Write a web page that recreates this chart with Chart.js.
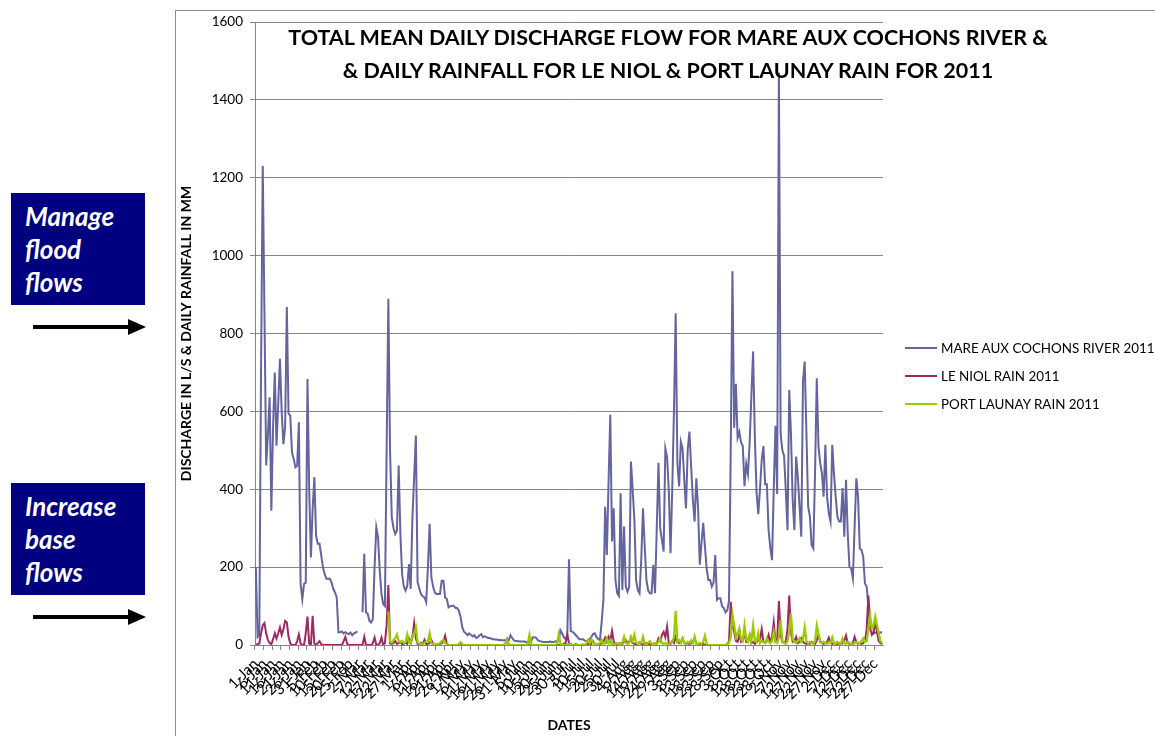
<!DOCTYPE html>
<html>
<head>
<meta charset="utf-8">
<script src="https://cdn.jsdelivr.net/npm/chart.js@4.4.0/dist/chart.umd.min.js"></script>
<style>
  body { margin: 0; width: 1155px; height: 736px; overflow: hidden; background: #fff; position: relative; font-family: Lato, 'Open Sans', sans-serif; }
  #chart { position: absolute; left: 0; top: 0; }
  #frame { position: absolute; left: 175px; top: 10px; width: 1000px; height: 740px; border-left: 1px solid #8c8c8c; border-top: 1px solid #8c8c8c; pointer-events: none; }
  #title { position: absolute; left: 218px; width: 900px; top: 21px; text-align: center; font: bold 21.5px Lato, sans-serif; line-height: 33px; color: #000; }
  .note { position: absolute; left: 11px; width: 134px; height: 112px; background: #000080; color: #fff; box-sizing: border-box; padding: 7px 0 0 14px; font: italic bold 26px Lato, sans-serif; line-height: 33px; }
  .note div { height: 33px; }
  .arrow { position: absolute; left: 33px; width: 114px; height: 18px; }
  #legend { position: absolute; left: 905px; top: 334px; font: 13.4px Lato, sans-serif; color: #000; }
  #legend .item { height: 28px; display: flex; align-items: center; white-space: nowrap; }
  #legend .swatch { width: 32px; height: 2px; margin-right: 4px; }
</style>
</head>
<body>
<canvas id="chart" width="1155" height="736"></canvas>
<div id="frame"></div>
<div id="title">TOTAL MEAN DAILY DISCHARGE FLOW FOR MARE AUX COCHONS RIVER &amp;<br>&amp; DAILY RAINFALL FOR LE NIOL &amp; PORT LAUNAY RAIN FOR 2011</div>

<div class="note" style="top:193px"><div>Manage</div><div>flood</div><div>flows</div></div>
<svg class="arrow" style="top:318px" viewBox="0 0 114 18"><rect x="0" y="7" width="98" height="4" fill="#000"/><polygon points="95,1 113,9 95,17" fill="#000"/></svg>
<div class="note" style="top:483px"><div>Increase</div><div>base</div><div>flows</div></div>
<svg class="arrow" style="top:608px" viewBox="0 0 114 18"><rect x="0" y="7" width="98" height="4" fill="#000"/><polygon points="95,1 113,9 95,17" fill="#000"/></svg>

<div id="legend"></div>

<script>
// categories: days of 2011
const monthNames = ['Jan', 'Feb', 'Mar', 'Apr', 'May', 'Jun', 'Jul', 'Aug', 'Sep', 'Oct', 'Nov', 'Dec'];
const monthDays = [31, 28, 31, 30, 31, 30, 31, 31, 30, 31, 30, 31];
const yTicks = [0, 200, 400, 600, 800, 1000, 1200, 1400, 1600];

const seriesNames = ['MARE AUX COCHONS RIVER 2011', 'LE NIOL RAIN 2011', 'PORT LAUNAY RAIN 2011'];
const seriesColors = ['#64649e', '#a0285f', '#99cc00'];

// mean daily discharge (L/s)
const riverFlow = [
  200, 20, 25, 700, 1230, 850, 461, 540, 636, 345,
  560, 700, 512, 620, 735, 600, 516, 559, 868, 594,
  589, 495, 478, 456, 460, 572, 157, 118, 157, 160,
  683, 400, 225, 350, 431, 281, 260, 260, 230, 200,
  182, 170, 170, 170, 160, 144, 135, 122, 33, 33,
  35, 30, 33, 30, 28, 32, 25, 30, 32, 35,
  null, null, 84, 234, 84, 80, 62, 58, 67, 200,
  302, 277, 191, 131, 105, 100, 500, 889, 499, 328,
  300, 285, 294, 461, 285, 182, 150, 140, 152, 208,
  144, 328, 430, 538, 161, 145, 131, 125, 122, 110,
  200, 311, 174, 150, 135, 131, 131, 131, 165, 165,
  122, 118, 97, 100, 101, 101, 95, 95, 88, 72,
  45, 34, 30, 25, 30, 26, 22, 25, 18, 20,
  25, 28, 20, 22, 20, 18, 18, 16, 15, 14,
  14, 13, 13, 12, 12, 12, 10, 12, 25, 18,
  12, 10, 10, 9, 9, 9, 9, 8, 8, 8,
  9, 20, 20, 18, 12, 10, 9, 8, 8, 8,
  8, 9, 8, 8, 9, 10, 10, 38, 30, 20,
  15, 25, 220, 36, 34, 30, 25, 20, 15, 15,
  15, 12, 10, 9, 15, 21, 28, 30, 20, 15,
  13, 60, 116, 355, 231, 420, 591, 266, 351, 167,
  133, 126, 390, 141, 304, 150, 137, 150, 471, 400,
  321, 167, 141, 133, 220, 351, 253, 167, 140, 133,
  133, 206, 133, 300, 468, 300, 270, 240, 505, 484,
  398, 236, 398, 600, 852, 467, 407, 522, 505, 424,
  351, 501, 548, 458, 373, 317, 428, 355, 206, 261,
  314, 253, 197, 167, 167, 150, 160, 231, 116, 120,
  120, 99, 95, 84, 89, 114, 500, 960, 558, 671,
  532, 547, 520, 511, 408, 465, 439, 520, 640, 754,
  537, 393, 336, 400, 475, 511, 413, 413, 295, 250,
  218, 400, 563, 388, 1470, 542, 500, 486, 398, 295,
  655, 544, 373, 295, 484, 432, 355, 278, 677, 728,
  544, 355, 330, 257, 248, 441, 685, 510, 467, 441,
  381, 514, 381, 338, 317, 514, 441, 380, 330, 317,
  317, 403, 278, 424, 287, 201, 197, 171, 304, 428,
  381, 248, 244, 227, 158, 150, 98, 39, 30, 30,
  32, 31, 32, 33, 32
];

// daily rainfall Le Niol (mm)
const leNiolRain = [
  0, 2, 4, 30, 50, 56, 30, 13, 5, 2,
  15, 30, 17, 30, 45, 26, 40, 62, 58, 21,
  4, 0, 0, 0, 10, 27, 4, 0, 0, 30,
  73, 4, 0, 75, 4, 0, 5, 10, 2, 0,
  0, 0, 0, 0, 0, 0, 0, 0, 0, 0,
  0, 10, 21, 4, 0, 0, 0, 0, 0, 0,
  0, 0, 0, 21, 0, 0, 0, 0, 5, 19,
  0, 0, 5, 19, 0, 5, 51, 154, 4, 2,
  5, 10, 3, 5, 8, 2, 3, 6, 3, 17,
  5, 20, 56, 17, 3, 2, 6, 3, 13, 2,
  3, 5, 13, 3, 2, 0, 0, 3, 5, 10,
  24, 3, 0, 0, 0, 0, 0, 0, 0, 0,
  0, 0, 0, 0, 0, 0, 0, 0, 0, 0,
  0, 0, 0, 0, 0, 0, 0, 0, 0, 0,
  0, 0, 0, 0, 0, 3, 15, 0, 0, 0,
  0, 0, 0, 0, 0, 0, 0, 0, 0, 0,
  0, 0, 0, 0, 0, 0, 0, 0, 0, 0,
  0, 0, 0, 0, 0, 0, 0, 0, 0, 3,
  5, 27, 5, 2, 0, 0, 2, 0, 0, 0,
  0, 0, 2, 3, 2, 3, 10, 2, 3, 0,
  2, 5, 8, 19, 8, 21, 10, 36, 8, 3,
  2, 3, 5, 3, 8, 13, 5, 8, 19, 5,
  3, 2, 3, 5, 3, 2, 3, 5, 2, 3,
  2, 3, 5, 3, 17, 10, 26, 34, 20, 47,
  5, 3, 10, 5, 21, 8, 5, 8, 17, 5,
  3, 5, 2, 5, 8, 17, 3, 2, 0, 0,
  2, 0, 0, 0, 0, 0, 0, 0, 0, 0,
  0, 0, 0, 0, 2, 10, 111, 51, 34, 10,
  8, 26, 8, 12, 30, 8, 12, 26, 5, 8,
  3, 8, 12, 15, 41, 8, 5, 10, 26, 8,
  20, 58, 8, 10, 113, 26, 8, 5, 10, 40,
  127, 34, 8, 10, 21, 5, 8, 17, 8, 5,
  3, 5, 3, 8, 5, 3, 12, 26, 8, 5,
  3, 5, 8, 19, 5, 3, 5, 3, 2, 5,
  3, 5, 10, 24, 5, 3, 2, 5, 21, 8,
  3, 5, 3, 5, 10, 40, 127, 60, 26, 30,
  62, 34, 10, 5, 2
];

// daily rainfall Port Launay (mm), no record before mid-March
const portLaunayRain = [
  null, null, null, null, null, null, null, null, null, null,
  null, null, null, null, null, null, null, null, null, null,
  null, null, null, null, null, null, null, null, null, null,
  null, null, null, null, null, null, null, null, null, null,
  null, null, null, null, null, null, null, null, null, null,
  null, null, null, null, null, null, null, null, null, null,
  null, null, null, null, null, null, null, null, null, null,
  null, null, null, null, null, null, null, 86, 9, 5,
  13, 17, 27, 10, 7, 10, 5, 7, 27, 7,
  3, 26, 30, 45, 7, 3, 4, 2, 5, 9,
  10, 30, 4, 2, 3, 2, 2, 5, 10, 13,
  5, 2, 0, 0, 0, 0, 0, 0, 2, 7,
  2, 0, 0, 0, 0, 0, 0, 0, 0, 0,
  0, 0, 0, 0, 0, 0, 0, 0, 0, 0,
  0, 0, 0, 0, 0, 3, 13, 2, 0, 0,
  0, 0, 0, 0, 0, 0, 0, 0, 2, 26,
  2, 0, 0, 0, 0, 0, 0, 0, 0, 0,
  0, 0, 0, 0, 0, 3, 27, 3, 0, 0,
  0, 2, 3, 0, 0, 0, 0, 0, 0, 0,
  2, 0, 3, 13, 5, 15, 5, 3, 2, 3,
  5, 13, 3, 5, 17, 5, 13, 3, 2, 3,
  5, 2, 3, 5, 21, 5, 3, 5, 21, 10,
  26, 5, 3, 8, 5, 21, 3, 2, 5, 10,
  3, 2, 5, 3, 8, 17, 5, 3, 5, 3,
  2, 5, 8, 20, 87, 8, 12, 5, 17, 5,
  3, 8, 5, 12, 5, 21, 3, 2, 5, 3,
  8, 24, 3, 0, 0, 0, 0, 0, 0, 0,
  0, 0, 0, 0, 2, 5, 20, 77, 51, 20,
  30, 43, 15, 10, 50, 15, 8, 26, 10, 50,
  12, 8, 30, 5, 10, 8, 5, 17, 8, 5,
  10, 34, 8, 5, 20, 64, 10, 5, 3, 10,
  30, 81, 15, 8, 5, 10, 17, 8, 15, 45,
  10, 5, 8, 5, 3, 10, 50, 30, 10, 5,
  8, 5, 3, 8, 5, 19, 5, 3, 8, 5,
  3, 17, 5, 3, 8, 5, 3, 2, 5, 8,
  3, 5, 10, 17, 8, 10, 40, 75, 43, 50,
  73, 51, 30, 10, 5
];

const dayLabels = [];
monthNames.forEach((m, i) => {
  for (let d = 1; d <= monthDays[i]; d++) dayLabels.push(d + '-' + m);
});

const fontFamily = 'Lato, "Open Sans", sans-serif';
const gridGrey = '#868686';

// legend (drawn beside the chart)
const legendEl = document.getElementById('legend');
seriesNames.forEach((name, i) => {
  const item = document.createElement('div');
  item.className = 'item';
  item.innerHTML = '<span class="swatch" style="background:' + seriesColors[i] + '"></span>' + name;
  legendEl.appendChild(item);
});

const ctx = document.getElementById('chart').getContext('2d');

new Chart(ctx, {
  type: 'line',
  data: {
    labels: dayLabels,
    datasets: [
      { label: seriesNames[0], data: riverFlow, borderColor: seriesColors[0], borderWidth: 2, pointRadius: 0, order: 3 },
      { label: seriesNames[1], data: leNiolRain, borderColor: seriesColors[1], borderWidth: 2, pointRadius: 0, order: 2 },
      { label: seriesNames[2], data: portLaunayRain, borderColor: seriesColors[2], borderWidth: 2.25, pointRadius: 0, order: 1 },
    ],
  },
  options: {
    responsive: false,
    animation: false,
    spanGaps: false,
    layout: { padding: { left: 176, top: 22, right: 272, bottom: 0 } },
    plugins: {
      legend: { display: false },
      tooltip: { enabled: false },
    },
    scales: {
      x: {
        offset: true,
        grid: {
          offset: true,
          drawOnChartArea: false,
          tickLength: 5,
          color: (c) => (c.index % 5 === 0 ? gridGrey : 'rgba(0,0,0,0)'),
        },
        border: { color: gridGrey },
        ticks: {
          autoSkip: false,
          maxRotation: 45,
          minRotation: 45,
          padding: 5,
          color: '#000',
          font: { family: fontFamily, size: 15 },
          callback: function (value, index) {
            return index % 5 === 0 ? this.getLabelForValue(value) : '';
          },
        },
        title: {
          display: true,
          text: 'DATES',
          color: '#000',
          font: { family: fontFamily, size: 14, weight: 'bold' },
          padding: { top: 4, bottom: 2 },
        },
        afterFit: (scale) => { scale.height = 91; },
      },
      y: {
        min: yTicks[0],
        max: yTicks[yTicks.length - 1],
        afterBuildTicks: (scale) => { scale.ticks = yTicks.map((v) => ({ value: v })); },
        grid: { color: gridGrey, tickLength: 5 },
        border: { color: gridGrey },
        ticks: {
          padding: 7,
          color: '#000',
          font: { family: fontFamily, size: 13.5 },
          callback: (v) => String(v),
        },
        title: {
          display: true,
          text: 'DISCHARGE IN L/S & DAILY RAINFALL IN MM',
          color: '#000',
          font: { family: fontFamily, size: 14, weight: 'bold' },
          padding: { top: 2, bottom: 4 },
        },
        afterFit: (scale) => { scale.width = 79; },
      },
    },
  },
});
</script>
</body>
</html>
